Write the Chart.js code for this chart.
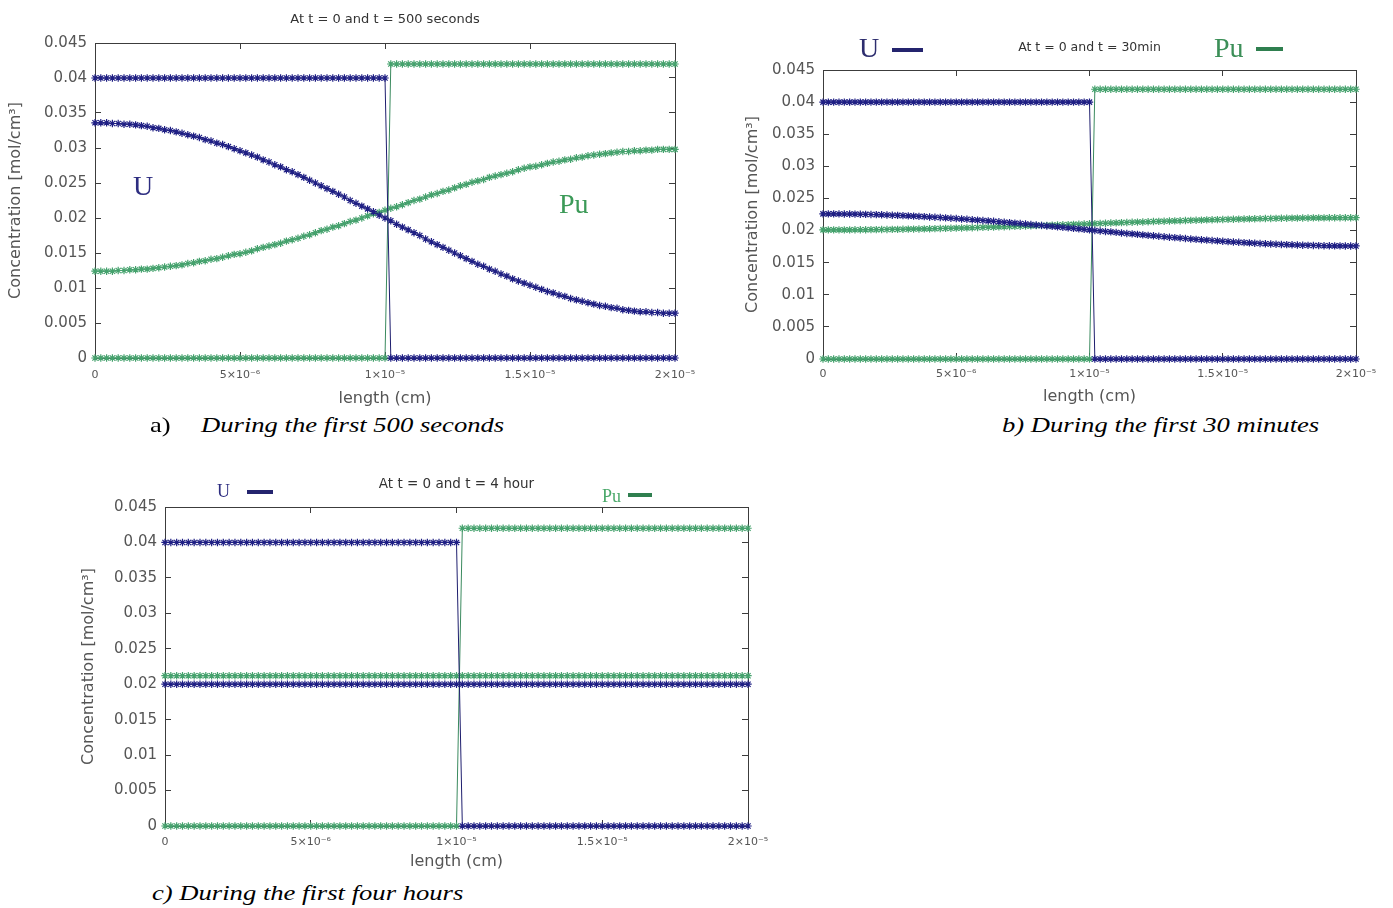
<!DOCTYPE html>
<html>
<head>
<meta charset="utf-8">
<script src="https://cdn.jsdelivr.net/npm/chart.js@4.4.1/dist/chart.umd.min.js"></script>
<style>
  body { margin: 0; width: 1393px; height: 908px; background: #fff; position: relative; overflow: hidden; }
  canvas { position: absolute; }
  .txt { position: absolute; font-family: 'Liberation Serif', serif; line-height: 1; white-space: nowrap; }
  .dash { position: absolute; }
  .cap { position: absolute; font-family: 'Liberation Serif', serif; font-size: 22px; line-height: 1; white-space: nowrap; transform: scaleX(1.21); transform-origin: left center; color: #000; }
  .cap i { font-style: italic; }
</style>
</head>
<body>
<canvas id="chartA" width="715" height="412" style="left:0px;top:0px"></canvas>
<canvas id="chartB" width="661" height="410" style="left:735px;top:0px"></canvas>
<canvas id="chartC" width="718" height="425" style="left:70px;top:450px"></canvas>

<!-- labels inside / above the plots -->
<div class="txt" style="left:133px;top:172px;font-size:28px;color:#2d2d80">U</div>
<div class="txt" style="left:559px;top:190px;font-size:28px;color:#3c9a58">Pu</div>

<div class="txt" style="left:859px;top:34px;font-size:28px;color:#2d2d6e">U</div>
<div class="dash" style="left:892px;top:48px;width:31px;height:4px;background:#24246e"></div>
<div class="txt" style="left:1214px;top:34px;font-size:28px;color:#3c8f58">Pu</div>
<div class="dash" style="left:1256px;top:47px;width:27px;height:4px;background:#2f7f4f"></div>

<div class="txt" style="left:217px;top:482px;font-size:18px;color:#2d2d80">U</div>
<div class="dash" style="left:247px;top:490px;width:26px;height:4px;background:#24246e"></div>
<div class="txt" style="left:602px;top:487px;font-size:18px;color:#4aa86a">Pu</div>
<div class="dash" style="left:628px;top:493px;width:24px;height:4px;background:#2f7f4f"></div>

<!-- captions -->
<div class="cap" style="left:150px;top:414px">a)</div>
<div class="cap" style="left:201px;top:414px"><i>During the first 500 seconds</i></div>
<div class="cap" style="left:1002px;top:414px"><i>b) During the first 30 minutes</i></div>
<div class="cap" style="left:152px;top:882px"><i>c) During the first four hours</i></div>

<script>
// grid nodes along the sample (cm)
const lengths = [
  0.0e-6, 0.2e-6, 0.4e-6, 0.6e-6, 0.8e-6, 1.0e-6, 1.2e-6, 1.4e-6, 1.6e-6, 1.8e-6,
  2.0e-6, 2.2e-6, 2.4e-6, 2.6e-6, 2.8e-6, 3.0e-6, 3.2e-6, 3.4e-6, 3.6e-6, 3.8e-6,
  4.0e-6, 4.2e-6, 4.4e-6, 4.6e-6, 4.8e-6, 5.0e-6, 5.2e-6, 5.4e-6, 5.6e-6, 5.8e-6,
  6.0e-6, 6.2e-6, 6.4e-6, 6.6e-6, 6.8e-6, 7.0e-6, 7.2e-6, 7.4e-6, 7.6e-6, 7.8e-6,
  8.0e-6, 8.2e-6, 8.4e-6, 8.6e-6, 8.8e-6, 9.0e-6, 9.2e-6, 9.4e-6, 9.6e-6, 9.8e-6,
  10.0e-6, 10.2e-6, 10.4e-6, 10.6e-6, 10.8e-6, 11.0e-6, 11.2e-6, 11.4e-6, 11.6e-6, 11.8e-6,
  12.0e-6, 12.2e-6, 12.4e-6, 12.6e-6, 12.8e-6, 13.0e-6, 13.2e-6, 13.4e-6, 13.6e-6, 13.8e-6,
  14.0e-6, 14.2e-6, 14.4e-6, 14.6e-6, 14.8e-6, 15.0e-6, 15.2e-6, 15.4e-6, 15.6e-6, 15.8e-6,
  16.0e-6, 16.2e-6, 16.4e-6, 16.6e-6, 16.8e-6, 17.0e-6, 17.2e-6, 17.4e-6, 17.6e-6, 17.8e-6,
  18.0e-6, 18.2e-6, 18.4e-6, 18.6e-6, 18.8e-6, 19.0e-6, 19.2e-6, 19.4e-6, 19.6e-6, 19.8e-6,
  20.0e-6
];

// t = 0 (same in every panel)
const uInitial = [
  0.04, 0.04, 0.04, 0.04, 0.04, 0.04, 0.04, 0.04, 0.04, 0.04,
  0.04, 0.04, 0.04, 0.04, 0.04, 0.04, 0.04, 0.04, 0.04, 0.04,
  0.04, 0.04, 0.04, 0.04, 0.04, 0.04, 0.04, 0.04, 0.04, 0.04,
  0.04, 0.04, 0.04, 0.04, 0.04, 0.04, 0.04, 0.04, 0.04, 0.04,
  0.04, 0.04, 0.04, 0.04, 0.04, 0.04, 0.04, 0.04, 0.04, 0.04,
  0.04, 0, 0, 0, 0, 0, 0, 0, 0, 0,
  0, 0, 0, 0, 0, 0, 0, 0, 0, 0,
  0, 0, 0, 0, 0, 0, 0, 0, 0, 0,
  0, 0, 0, 0, 0, 0, 0, 0, 0, 0,
  0, 0, 0, 0, 0, 0, 0, 0, 0, 0,
  0
];
const puInitial = [
  0, 0, 0, 0, 0, 0, 0, 0, 0, 0,
  0, 0, 0, 0, 0, 0, 0, 0, 0, 0,
  0, 0, 0, 0, 0, 0, 0, 0, 0, 0,
  0, 0, 0, 0, 0, 0, 0, 0, 0, 0,
  0, 0, 0, 0, 0, 0, 0, 0, 0, 0,
  0, 0.042, 0.042, 0.042, 0.042, 0.042, 0.042, 0.042, 0.042, 0.042,
  0.042, 0.042, 0.042, 0.042, 0.042, 0.042, 0.042, 0.042, 0.042, 0.042,
  0.042, 0.042, 0.042, 0.042, 0.042, 0.042, 0.042, 0.042, 0.042, 0.042,
  0.042, 0.042, 0.042, 0.042, 0.042, 0.042, 0.042, 0.042, 0.042, 0.042,
  0.042, 0.042, 0.042, 0.042, 0.042, 0.042, 0.042, 0.042, 0.042, 0.042,
  0.042
];

// t = 500 s
const u500s = [
  0.0336, 0.0336, 0.0336, 0.0335, 0.0335, 0.0334, 0.0334, 0.0333, 0.0332, 0.0331,
  0.0329, 0.0328, 0.0326, 0.0325, 0.0323, 0.0321, 0.0319, 0.0317, 0.0315, 0.0312,
  0.0310, 0.0307, 0.0305, 0.0302, 0.0299, 0.0296, 0.0293, 0.0290, 0.0287, 0.0283,
  0.0280, 0.0276, 0.0273, 0.0269, 0.0266, 0.0262, 0.0258, 0.0254, 0.0250, 0.0246,
  0.0242, 0.0238, 0.0234, 0.0230, 0.0225, 0.0221, 0.0217, 0.0213, 0.0209, 0.0204,
  0.0200, 0.0196, 0.0191, 0.0187, 0.0183, 0.0179, 0.0175, 0.0170, 0.0166, 0.0162,
  0.0158, 0.0154, 0.0150, 0.0146, 0.0142, 0.0138, 0.0134, 0.0131, 0.0127, 0.0124,
  0.0120, 0.0117, 0.0113, 0.0110, 0.0107, 0.0104, 0.0101, 0.0098, 0.0095, 0.0093,
  0.0090, 0.0088, 0.0085, 0.0083, 0.0081, 0.0079, 0.0077, 0.0075, 0.0074, 0.0072,
  0.0071, 0.0069, 0.0068, 0.0067, 0.0066, 0.0066, 0.0065, 0.0065, 0.0064, 0.0064,
  0.0064
];
const pu500s = [
  0.0124, 0.0124, 0.0124, 0.0124, 0.0125, 0.0125, 0.0126, 0.0126, 0.0127, 0.0127,
  0.0128, 0.0129, 0.0130, 0.0131, 0.0132, 0.0133, 0.0135, 0.0136, 0.0138, 0.0139,
  0.0141, 0.0142, 0.0144, 0.0146, 0.0148, 0.0149, 0.0151, 0.0153, 0.0156, 0.0158,
  0.0160, 0.0162, 0.0164, 0.0167, 0.0169, 0.0171, 0.0174, 0.0176, 0.0179, 0.0182,
  0.0184, 0.0187, 0.0189, 0.0192, 0.0195, 0.0197, 0.0200, 0.0203, 0.0206, 0.0208,
  0.0211, 0.0214, 0.0216, 0.0219, 0.0222, 0.0225, 0.0227, 0.0230, 0.0233, 0.0235,
  0.0238, 0.0240, 0.0243, 0.0246, 0.0248, 0.0251, 0.0253, 0.0255, 0.0258, 0.0260,
  0.0262, 0.0264, 0.0266, 0.0269, 0.0271, 0.0273, 0.0274, 0.0276, 0.0278, 0.0280,
  0.0281, 0.0283, 0.0284, 0.0286, 0.0287, 0.0289, 0.0290, 0.0291, 0.0292, 0.0293,
  0.0294, 0.0295, 0.0295, 0.0296, 0.0296, 0.0297, 0.0297, 0.0298, 0.0298, 0.0298,
  0.0298
];

// t = 30 min
const u30min = [
  0.02260, 0.02260, 0.02260, 0.02259, 0.02258, 0.02257, 0.02256, 0.02254, 0.02252, 0.02250,
  0.02248, 0.02245, 0.02242, 0.02239, 0.02236, 0.02233, 0.02229, 0.02225, 0.02221, 0.02217,
  0.02212, 0.02208, 0.02203, 0.02198, 0.02192, 0.02187, 0.02181, 0.02175, 0.02169, 0.02163,
  0.02157, 0.02151, 0.02144, 0.02137, 0.02130, 0.02124, 0.02116, 0.02109, 0.02102, 0.02095,
  0.02087, 0.02080, 0.02072, 0.02065, 0.02057, 0.02049, 0.02041, 0.02034, 0.02026, 0.02018,
  0.02010, 0.02002, 0.01994, 0.01986, 0.01979, 0.01971, 0.01963, 0.01955, 0.01948, 0.01940,
  0.01933, 0.01925, 0.01918, 0.01911, 0.01904, 0.01896, 0.01890, 0.01883, 0.01876, 0.01869,
  0.01863, 0.01857, 0.01851, 0.01845, 0.01839, 0.01833, 0.01828, 0.01822, 0.01817, 0.01812,
  0.01808, 0.01803, 0.01799, 0.01795, 0.01791, 0.01787, 0.01784, 0.01781, 0.01778, 0.01775,
  0.01772, 0.01770, 0.01768, 0.01766, 0.01764, 0.01763, 0.01762, 0.01761, 0.01760, 0.01760,
  0.01760
];
const pu30min = [
  0.02010, 0.02010, 0.02010, 0.02010, 0.02011, 0.02011, 0.02012, 0.02012, 0.02013, 0.02014,
  0.02015, 0.02016, 0.02017, 0.02018, 0.02019, 0.02020, 0.02022, 0.02023, 0.02025, 0.02026,
  0.02028, 0.02030, 0.02032, 0.02034, 0.02036, 0.02038, 0.02040, 0.02042, 0.02044, 0.02047,
  0.02049, 0.02052, 0.02054, 0.02057, 0.02059, 0.02062, 0.02065, 0.02067, 0.02070, 0.02073,
  0.02076, 0.02078, 0.02081, 0.02084, 0.02087, 0.02090, 0.02093, 0.02096, 0.02099, 0.02102,
  0.02105, 0.02108, 0.02111, 0.02114, 0.02117, 0.02120, 0.02123, 0.02126, 0.02129, 0.02132,
  0.02134, 0.02137, 0.02140, 0.02143, 0.02145, 0.02148, 0.02151, 0.02153, 0.02156, 0.02158,
  0.02161, 0.02163, 0.02166, 0.02168, 0.02170, 0.02172, 0.02174, 0.02176, 0.02178, 0.02180,
  0.02182, 0.02184, 0.02185, 0.02187, 0.02188, 0.02190, 0.02191, 0.02192, 0.02193, 0.02194,
  0.02195, 0.02196, 0.02197, 0.02198, 0.02198, 0.02199, 0.02199, 0.02200, 0.02200, 0.02200,
  0.02200
];

// t = 4 hour (flat)
const u4h = [
  0.0200, 0.0200, 0.0200, 0.0200, 0.0200, 0.0200, 0.0200, 0.0200, 0.0200, 0.0200,
  0.0200, 0.0200, 0.0200, 0.0200, 0.0200, 0.0200, 0.0200, 0.0200, 0.0200, 0.0200,
  0.0200, 0.0200, 0.0200, 0.0200, 0.0200, 0.0200, 0.0200, 0.0200, 0.0200, 0.0200,
  0.0200, 0.0200, 0.0200, 0.0200, 0.0200, 0.0200, 0.0200, 0.0200, 0.0200, 0.0200,
  0.0200, 0.0200, 0.0200, 0.0200, 0.0200, 0.0200, 0.0200, 0.0200, 0.0200, 0.0200,
  0.0200, 0.0200, 0.0200, 0.0200, 0.0200, 0.0200, 0.0200, 0.0200, 0.0200, 0.0200,
  0.0200, 0.0200, 0.0200, 0.0200, 0.0200, 0.0200, 0.0200, 0.0200, 0.0200, 0.0200,
  0.0200, 0.0200, 0.0200, 0.0200, 0.0200, 0.0200, 0.0200, 0.0200, 0.0200, 0.0200,
  0.0200, 0.0200, 0.0200, 0.0200, 0.0200, 0.0200, 0.0200, 0.0200, 0.0200, 0.0200,
  0.0200, 0.0200, 0.0200, 0.0200, 0.0200, 0.0200, 0.0200, 0.0200, 0.0200, 0.0200,
  0.0200
];
const pu4h = [
  0.0212, 0.0212, 0.0212, 0.0212, 0.0212, 0.0212, 0.0212, 0.0212, 0.0212, 0.0212,
  0.0212, 0.0212, 0.0212, 0.0212, 0.0212, 0.0212, 0.0212, 0.0212, 0.0212, 0.0212,
  0.0212, 0.0212, 0.0212, 0.0212, 0.0212, 0.0212, 0.0212, 0.0212, 0.0212, 0.0212,
  0.0212, 0.0212, 0.0212, 0.0212, 0.0212, 0.0212, 0.0212, 0.0212, 0.0212, 0.0212,
  0.0212, 0.0212, 0.0212, 0.0212, 0.0212, 0.0212, 0.0212, 0.0212, 0.0212, 0.0212,
  0.0212, 0.0212, 0.0212, 0.0212, 0.0212, 0.0212, 0.0212, 0.0212, 0.0212, 0.0212,
  0.0212, 0.0212, 0.0212, 0.0212, 0.0212, 0.0212, 0.0212, 0.0212, 0.0212, 0.0212,
  0.0212, 0.0212, 0.0212, 0.0212, 0.0212, 0.0212, 0.0212, 0.0212, 0.0212, 0.0212,
  0.0212, 0.0212, 0.0212, 0.0212, 0.0212, 0.0212, 0.0212, 0.0212, 0.0212, 0.0212,
  0.0212, 0.0212, 0.0212, 0.0212, 0.0212, 0.0212, 0.0212, 0.0212, 0.0212, 0.0212,
  0.0212
];

const xTickValues = [0, 5e-6, 1e-5, 1.5e-5, 2e-5];
const xTickLabels = ['0', '5×10⁻⁶', '1×10⁻⁵', '1.5×10⁻⁵', '2×10⁻⁵'];
const yTickValues = [0, 0.005, 0.01, 0.015, 0.02, 0.025, 0.03, 0.035, 0.04, 0.045];
const yTickLabels = ['0', '0.005', '0.01', '0.015', '0.02', '0.025', '0.03', '0.035', '0.04', '0.045'];

const U_LINE = '#1e1e6e';
const U_MARK = '#1f1f84';
const PU_LINE = '#3a8a5e';
const PU_MARK = '#45a26d';
const FRAME = '#3c3c3c';
const LABEL = '#555';

function series(values, line, mark) {
  return {
    data: lengths.map((x, i) => ({ x: x, y: values[i] })),
    borderColor: line,
    borderWidth: 1,
    pointStyle: 'star',
    pointRadius: 3.7,
    pointBorderWidth: 1.2,
    pointBorderColor: mark,
    pointBackgroundColor: mark,
    fill: false,
    tension: 0,
    clip: false
  };
}

function xAxis(position, box) {
  const main = position === 'bottom';
  return {
    type: 'linear',
    position: position,
    min: 0,
    max: 2e-5,
    afterBuildTicks: s => { s.ticks = xTickValues.map(v => ({ value: v })); },
    afterFit: s => { s.height = main ? box.xHeight : 0; },
    ticks: {
      display: main,
      autoSkip: false,
      maxRotation: 0,
      padding: box.xTickPad,
      color: LABEL,
      font: { family: 'DejaVu Sans', size: 11 },
      callback: (v, i) => xTickLabels[i]
    },
    // negative tick length draws the gnuplot style inward ticks
    grid: { drawOnChartArea: false, tickLength: -6, color: FRAME },
    border: { display: true, color: FRAME, width: 1 },
    title: {
      display: main,
      text: 'length (cm)',
      color: LABEL,
      font: { family: 'DejaVu Sans', size: 16 },
      padding: { top: 4, bottom: 4 }
    }
  };
}

function yAxis(position, box) {
  const main = position === 'left';
  return {
    type: 'linear',
    position: position,
    min: 0,
    max: 0.045,
    afterBuildTicks: s => { s.ticks = yTickValues.map(v => ({ value: v })); },
    // right axis is wide enough to hold half of the last x label
    afterFit: s => { s.width = main ? box.yWidth : 40; },
    ticks: {
      display: main,
      autoSkip: false,
      padding: 14,
      color: LABEL,
      font: { family: 'DejaVu Sans', size: 15 },
      callback: (v, i) => yTickLabels[i]
    },
    grid: { drawOnChartArea: false, tickLength: -6, color: FRAME },
    border: { display: true, color: FRAME, width: 1 },
    title: {
      display: main,
      text: 'Concentration [mol/cm³]',
      color: LABEL,
      font: { family: 'DejaVu Sans', size: 16 },
      padding: { top: box.yTitlePad, bottom: 0 }
    }
  };
}

function makeChart(id, title, uNow, puNow, box) {
  return new Chart(document.getElementById(id), {
    type: 'line',
    data: {
      // U first so it is painted on top of Pu
      datasets: [
        series(uNow, U_LINE, U_MARK),
        series(uInitial, U_LINE, U_MARK),
        series(puNow, PU_LINE, PU_MARK),
        series(puInitial, PU_LINE, PU_MARK)
      ]
    },
    options: {
      responsive: false,
      animation: false,
      events: [],
      layout: { padding: 0 },
      plugins: {
        legend: { display: false },
        tooltip: { enabled: false },
        title: {
          display: true,
          text: title,
          fullSize: false,
          color: '#333',
          font: { family: 'DejaVu Sans', size: box.titleSize, weight: 'normal' },
          padding: { top: box.titleTop, bottom: box.titleBottom }
        }
      },
      scales: {
        x: xAxis('bottom', box),
        x2: xAxis('top', box),
        y: yAxis('left', box),
        y2: yAxis('right', box)
      }
    }
  });
}

makeChart('chartA', 'At t = 0 and t = 500 seconds', u500s, pu500s,
  { yWidth: 95, yTitlePad: 6, xHeight: 54, xTickPad: 17, titleSize: 13, titleTop: 11.8, titleBottom: 15.6 });
makeChart('chartB', 'At t = 0 and t = 30min', u30min, pu30min,
  { yWidth: 88, yTitlePad: 8, xHeight: 51, xTickPad: 15, titleSize: 12.5, titleTop: 40.5, titleBottom: 14.5 });
makeChart('chartC', 'At t = 0 and t = 4 hour', u4h, pu4h,
  { yWidth: 95, yTitlePad: 9.4, xHeight: 49, xTickPad: 16, titleSize: 13.5, titleTop: 25.9, titleBottom: 14.9 });
</script>
</body>
</html>
